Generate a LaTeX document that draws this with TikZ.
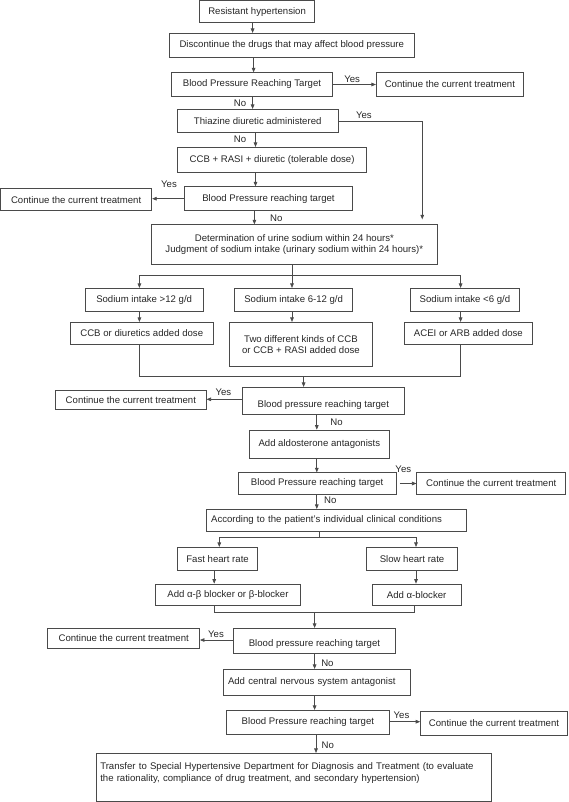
\documentclass[tikz,border=0pt]{standalone}
\usepackage{fontspec}
\setmainfont{Liberation Sans}
\usetikzlibrary{arrows.meta}
\definecolor{lnc}{HTML}{4A4A4A}
\definecolor{txc}{HTML}{262626}
\begin{document}
\begin{tikzpicture}[x=1pt,y=-1pt,
  box/.style={draw=lnc,line width=0.7pt,inner sep=0pt,align=center,text=txc,font=\fontsize{9.6}{11.5}\selectfont},
  arr/.style={draw=lnc,line width=0.7pt,-{Triangle[length=4.5pt,width=3.6pt]}},
  wire/.style={draw=lnc,line width=0.7pt},
  lab/.style={text=txc,font=\fontsize{9.6}{11.5}\selectfont,inner sep=0pt}]
\useasboundingbox (0,0) rectangle (569,802);

% boxes
\node[box,minimum width=115,minimum height=22.2] (r1) at (257.1,11.6) {Resistant hypertension};
\node[box,minimum width=244.2,minimum height=24] (d) at (291.8,45.3) {Discontinue the drugs that may affect blood pressure};
\node[box,minimum width=161,minimum height=23.6] (b3) at (252,84.5) {Blood Pressure Reaching Target};
\node[box,minimum width=147.1,minimum height=23.6] (c1) at (449.85,84.5) {Continue the current treatment};
\node[box,minimum width=160.6,minimum height=23.4] (th) at (257.7,121) {Thiazine diuretic administered};
\node[box,minimum width=189.4,minimum height=25.4] (ccb) at (272.1,160) {CCB + RASI + diuretic (tolerable dose)};
\node[box,minimum width=168.3,minimum height=24] (b6) at (268.45,198.7) {Blood Pressure reaching target};
\node[box,minimum width=151.3,minimum height=22] (c2) at (76.15,199.7) {Continue the current treatment};
\node[box,minimum width=285.1,minimum height=39.3] (big) at (294.35,244.35) {Determination of urine sodium within 24 hours*\\Judgment of sodium intake (urinary sodium within 24 hours)*};
\node[box,minimum width=118.3,minimum height=23.4] (s1) at (144.15,300) {Sodium intake {>}12 g/d};
\node[box,minimum width=117.9,minimum height=23.4] (s2) at (293.65,300) {Sodium intake 6-12 g/d};
\node[box,minimum width=108.7,minimum height=23.4] (s3) at (464.95,300) {Sodium intake {<}6 g/d};
\node[box,minimum width=143.5,minimum height=21.7] (t1) at (141.75,333.15) {CCB or diuretics added dose};
\node[box,minimum width=142.7,minimum height=44.4] (t2) at (300.95,344.5) {Two different kinds of CCB\\or CCB + RASI added dose};
\node[box,minimum width=128.8,minimum height=21.7] (t3) at (468.4,333.15) {ACEI or ARB added dose};
\node[box,minimum width=161.3,minimum height=26.7,text height=13.6pt,text depth=0pt] (b7) at (323.35,400.65) {Blood pressure reaching target};
\node[box,minimum width=150.7,minimum height=18.6] (c3) at (130.85,400) {Continue the current treatment};
\node[box,minimum width=140.1,minimum height=28.3] (ald) at (319.35,444.15) {Add aldosterone antagonists};
\node[box,minimum width=157.7,minimum height=21.6] (b8) at (317.15,483.5) {Blood Pressure reaching target};
\node[box,minimum width=148.9,minimum height=21.6] (c4) at (491.25,483.5) {Continue the current treatment};
\node[box,minimum width=259.8,minimum height=22.4,text width=250pt,align=left] (acc) at (336.1,520.5) {According to the patient's individual clinical conditions};
\node[box,minimum width=80.3,minimum height=23.4] (fast) at (217.55,559) {Fast heart rate};
\node[box,minimum width=90.5,minimum height=23.4] (slow) at (412.05,559) {Slow heart rate};
\node[box,minimum width=144.9,minimum height=21.7] (ab) at (227.95,594.85) {Add α-β blocker or β-blocker};
\node[box,minimum width=88.7,minimum height=21.7] (ablk) at (416.65,594.85) {Add α-blocker};
\node[box,minimum width=161.7,minimum height=25,text height=12pt,text depth=0pt] (b9) at (314.45,640.8) {Blood pressure reaching target};
\node[box,minimum width=151.8,minimum height=20] (c5) at (123.7,638.3) {Continue the current treatment};
\node[box,minimum width=187.2,minimum height=25.7,text width=178pt,align=left] (cns) at (317,682.15) {Add central nervous system antagonist};
\node[box,minimum width=163.8,minimum height=24] (b10) at (307.9,722.3) {Blood Pressure reaching target};
\node[box,minimum width=147,minimum height=23.3] (c6) at (494,723.3) {Continue the current treatment};
\node[box,minimum width=395,minimum height=48] (tr) at (293.5,777.3) {};
\node[lab,text width=386pt,align=left,anchor=north west,font=\fontsize{9.6}{12}\selectfont] (trt) at ([xshift=4.4pt,yshift=-9pt]tr.north west) {Transfer to Special Hypertensive Department for Diagnosis and Treatment (to evaluate\\the rationality, compliance of drug treatment, and secondary hypertension)};

% main chain
\draw[arr] (252.6,0 |- r1.south) -- (252.6,0 |- d.north);
\draw[arr] (253.6,0 |- d.south) -- (253.6,0 |- b3.north);
\draw[arr] (b3.east) -- (c1.west);
\node[lab] (y1) at (352.2,79) {Yes};
\draw[arr] (252.6,0 |- b3.south) -- (252.6,0 |- th.north);
\node[lab] (n1) at (240,103) {No};
\draw[arr] (th.east) -| ([xshift=270.8pt,yshift=5pt]big.north west);
\node[lab] (y2) at (363.9,115) {Yes};
\draw[arr] (255.5,0 |- th.south) -- (255.5,0 |- ccb.north);
\node[lab] (n2) at (240,139.3) {No};
\draw[arr] (255.5,0 |- ccb.south) -- (255.5,0 |- b6.north);
\draw[arr] (b6.west) -- (b6.west -| c2.east);
\node[lab] (y3) at (169,184) {Yes};
\draw[arr] (254.4,0 |- b6.south) -- (254.4,0 |- big.north);
\node[lab] (n3) at (276.3,218) {No};

% sodium split
\coordinate (sj) at (292,275);
\coordinate (sl) at (139.4,275);
\coordinate (sr) at (460.6,275);
\draw[wire] (sj |- big.south) -- (sj);
\draw[wire] (sl) -- (sr);
\draw[arr] (sl) -- (sl |- s1.north);
\draw[arr] (sj) -- (sj |- s2.north);
\draw[arr] (sr) -- (sr |- s3.north);
\draw[arr] (sl |- s1.south) -- (sl |- t1.north);
\draw[arr] (sj |- s2.south) -- (sj |- t2.north);
\draw[arr] (sr |- s3.south) -- (sr |- t3.north);
\coordinate (m1) at (303.6,376.7);
\draw[wire] (sl |- t1.south) -- (139.4,376.7) -- (460.6,376.7) -- (sr |- t3.south);
\draw[arr] (m1) -- (m1 |- b7.north);

\draw[arr] (b7.west |- 0,399.3) -- (c3.east |- 0,399.3);
\node[lab] (y4) at (223.4,392.7) {Yes};
\draw[arr] (316.8,0 |- b7.south) -- (316.8,0 |- ald.north);
\node[lab] (n4) at (336.5,422.7) {No};
\draw[arr] (316.8,0 |- ald.south) -- (316.8,0 |- b8.north);
\draw[arr] ([xshift=3.6pt]b8.east) -- (c4.west);
\node[lab] (y5) at (403.3,469) {Yes};
\draw[arr] (316.8,0 |- b8.south) -- (316.8,0 |- acc.north);
\node[lab] (n5) at (330.3,500) {No};

% heart-rate split
\coordinate (hj) at (319.3,537.3);
\coordinate (hl) at (219.3,537.3);
\coordinate (hr) at (416,537.3);
\draw[wire] (hj |- acc.south) -- (hj);
\draw[wire] (hl) -- (hr);
\draw[arr] (hl) -- (hl |- fast.north);
\draw[arr] (hr) -- (hr |- slow.north);
\draw[arr] (214.2,0 |- fast.south) -- (214.2,0 |- ab.north);
\draw[arr] (hr |- slow.south) -- (hr |- ablk.north);
\coordinate (m2) at (314.6,612.7);
\draw[wire] (214.2,0 |- ab.south) -- (214.2,612.7) -- (414.2,612.7) -- (414.2,0 |- ablk.south);
\draw[arr] (m2) -- (m2 |- b9.north);

\draw[arr] (b9.west |- 0,640) -- (c5.east |- 0,640);
\node[lab] (y6) at (216,634) {Yes};
\draw[arr] (314.6,0 |- b9.south) -- (314.6,0 |- cns.north);
\node[lab] (n6) at (327.4,663.3) {No};
\draw[arr] (314.6,0 |- cns.south) -- (314.6,0 |- b10.north);
\draw[arr] (b10.east |- 0,721.7) -- (c6.west |- 0,721.7);
\node[lab] (y7) at (401.5,715.3) {Yes};
\draw[arr] (316,0 |- b10.south) -- (316,0 |- tr.north);
\node[lab] (n7) at (327.7,745.7) {No};
\end{tikzpicture}
\end{document}
